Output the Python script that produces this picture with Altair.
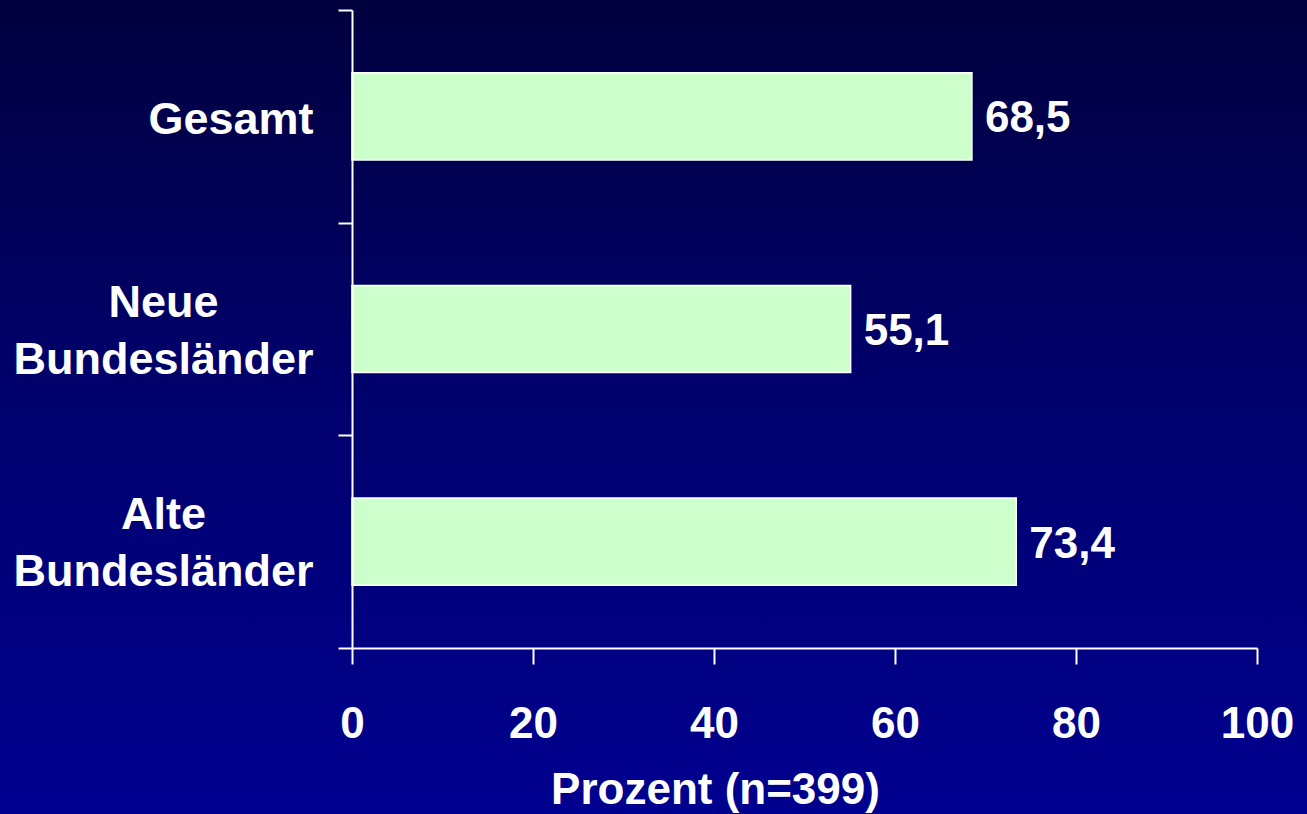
import altair as alt
import pandas as pd

# Share of respondents (percent), n=399
categories = ["Gesamt", "Neue\nBundesländer", "Alte\nBundesländer"]
values = [68.5, 55.1, 73.4]
x_ticks = [0, 20, 40, 60, 80, 100]

df = pd.DataFrame({"gruppe": categories, "prozent": values})

FONT = "Liberation Sans"
WHITE = "#ffffff"

# slide-style background: dark navy fading to royal blue
backdrop = alt.Chart(pd.DataFrame({"bg": [0]})).mark_rect(
    fill=alt.LinearGradient(
        gradient="linear",
        stops=[
            alt.GradientStop(color="#00003e", offset=0),
            alt.GradientStop(color="#00006a", offset=0.45),
            alt.GradientStop(color="#000090", offset=1),
        ],
        x1=0, x2=0, y1=0, y2=1,
    )
).encode(
    x=alt.value(-352), x2=alt.value(955),
    y=alt.value(-10), y2=alt.value(804),
)

IS_TOTAL = "datum.value == 'Gesamt'"

y_enc = alt.Y(
    "gruppe:N",
    sort=categories,
    scale=alt.Scale(paddingInner=0, paddingOuter=0),
    axis=alt.Axis(
        title=None,
        zindex=1,
        labelExpr="split(datum.label, '\\n')",
        labelFont=FONT,
        labelFontSize=45,
        labelFontWeight="bold",
        labelColor=WHITE,
        labelLineHeight=57,
        labelLimit=500,
        labelBaseline="middle",
        labelAlign={"condition": {"test": IS_TOTAL, "value": "right"}, "value": "center"},
        labelPadding={"condition": {"test": IS_TOTAL, "value": 25}, "value": 175},
        labelOffset={"condition": {"test": IS_TOTAL, "value": 3}, "value": -27},
        tickBand="extent",
        tickSize=14,
        tickWidth=2,
        tickColor=WHITE,
        domainColor=WHITE,
        domainWidth=2,
        grid=False,
    ),
)

x_enc = alt.X(
    "prozent:Q",
    scale=alt.Scale(domain=[0, 100], nice=False),
    axis=alt.Axis(
        values=x_ticks,
        zindex=1,
        title="Prozent (n=399)",
        titleFont=FONT,
        titleFontSize=44,
        titleFontWeight="bold",
        titleColor=WHITE,
        titleAlign="center",
        titleBaseline="alphabetic",
        titleX=363,
        titleY=155,
        labelFont=FONT,
        labelFontSize=44,
        labelFontWeight="bold",
        labelColor=WHITE,
        labelBaseline="alphabetic",
        labelPadding=73,
        labelFlush=False,
        tickSize=16,
        tickWidth=2,
        tickColor=WHITE,
        domainColor=WHITE,
        domainWidth=2,
        grid=False,
    ),
)

bars = alt.Chart(df).mark_bar(
    height={"band": 0.41},
    fill="#ccffcc",
    stroke=WHITE,
    strokeWidth=1.5,
).encode(x=x_enc, y=y_enc)

labels = alt.Chart(df).transform_calculate(
    txt="replace(format(datum.prozent, '.1f'), '.', ',')"
).mark_text(
    align="left",
    baseline="middle",
    dx=13,
    dy=3,
    font=FONT,
    fontSize=44,
    fontWeight="bold",
    color=WHITE,
).encode(
    x=alt.X("prozent:Q"),
    y=alt.Y("gruppe:N", sort=categories),
    text="txt:N",
)

chart = alt.layer(backdrop, bars, labels).properties(
    width=905,
    height=638,
    autosize=alt.AutoSizeParams(type="none"),
    padding={"left": 352, "top": 10, "right": 50, "bottom": 166},
    background="#000070",
).configure_view(stroke=None)

chart.save("out.html", embed_options={"renderer": "svg", "actions": False})
